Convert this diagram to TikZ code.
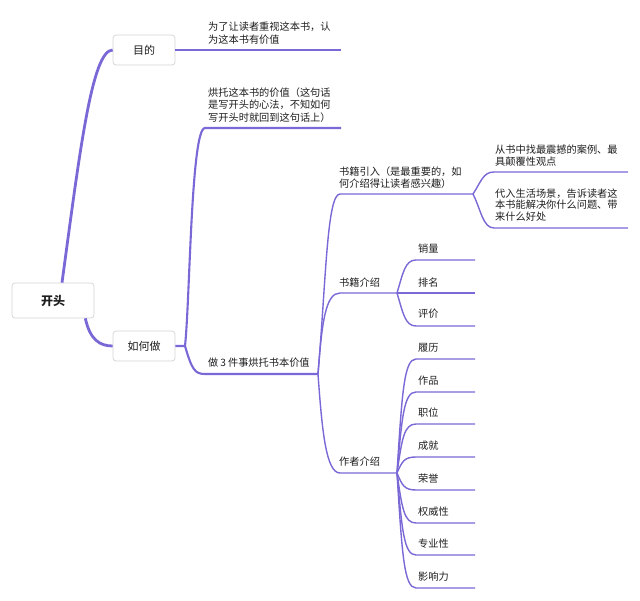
\documentclass[tikz,border=0pt]{standalone}
\usepackage{fontspec}
\newfontfamily\cjk{Noto Sans CJK SC}
\usetikzlibrary{calc}
\definecolor{br}{RGB}{122,104,214}
\definecolor{bx}{RGB}{212,212,212}
\definecolor{tx}{RGB}{30,30,30}
\begin{document}
\begin{tikzpicture}[x=1pt,y=-1pt,
  box/.style={draw=bx,line width=0.7pt,rounded corners=3pt,fill=white,minimum width=62pt,minimum height=30pt,inner sep=0pt,font=\cjk\fontsize{11}{13}\selectfont,text=tx},
  rootbox/.style={box,minimum width=82pt,minimum height=35pt,font=\cjk\bfseries\fontsize{12}{14}\selectfont},
  lbl/.style={anchor=west,inner sep=0pt,align=left,text=tx,font=\cjk\fontsize{10.2}{12.8}\selectfont},
  lbl3/.style={lbl,font=\cjk\fontsize{10.2}{11.8}\selectfont},
  b1/.style={draw=br,line width=2.8pt},
  b2/.style={draw=br,line width=2.1pt},
  b3/.style={draw=br,line width=1.4pt},
]
\useasboundingbox (0,0) rectangle (640,601);
\node[rootbox] (root) at (53,300.5) {开头};
\node[box] (mudi) at (144,50) {目的};
\node[box] (ruhe) at (144,346) {如何做};
\draw[b1] ([xshift=9pt]root.north) .. controls (80,150) and (92,50) .. (mudi.west);
\draw[b1] ([xshift=-9pt]root.south east) .. controls (90,340) and (100,346) .. (ruhe.west);
% level 2
\node[lbl] (t1) at (208,33.5) {为了让读者重视这本书，认\\为这本书有价值};
\coordinate (t1e) at (341,50);
\draw[b2] (mudi.east) -- (t1e);
\node[lbl] (t2) at (208,105) {烘托这本书的价值（这句话\\是写开头的心法，不知如何\\写开头时就回到这句话上）};
\node[lbl] (t3) at (208,363) {做\hspace{2pt}3\hspace{2pt}件事烘托书本价值};
\coordinate (j1) at (185,346);
\coordinate (t2e) at (341,128);
\coordinate (j2) at (318,374);
\draw[b2] (ruhe.east) -- (j1) .. controls (190,300) and (191,128) .. (205,128) -- (t2e);
\draw[b2] (j1) .. controls (192,370) and (195,374) .. (205,374) -- (j2);
% level 3
\node[lbl3] (s1) at (339,177.5) {书籍引入（是最重要的，如\\何介绍得让读者感兴趣）};
\node[lbl3] (s2) at (339,283) {书籍介绍};
\node[lbl3] (s3) at (339,462) {作者介绍};
\coordinate (j3) at (473,194);
\coordinate (j4) at (397,293);
\coordinate (j5) at (397,473);
\draw[b3] (j2) .. controls (326,280) and (327,194) .. (340,194) -- (j3);
\draw[b3] (j2) .. controls (322,320) and (326,293) .. (340,293) -- (j4);
\draw[b3] (j2) .. controls (322,430) and (326,473) .. (340,473) -- (j5);
% level 4
\node[lbl3] (r1) at (495,156) {从书中找最震撼的案例、最\\具颠覆性观点};
\node[lbl3] (r2) at (495,205) {代入生活场景，告诉读者这\\本书能解决你什么问题、带\\来什么好处};
\coordinate (r1e) at (628,172);
\coordinate (r2e) at (628,228);
\draw[b3] (j3) .. controls (481,182) and (483,172) .. (494,172) -- (r1e);
\draw[b3] (j3) .. controls (481,210) and (483,228) .. (494,228) -- (r2e);
\foreach \u/\t/\s [count=\i] in {260/249/销量,293/283/排名,326/314/评价}{
  \node[lbl3] (k\i) at (418,\t) {\s};
  \coordinate (ke\i) at (475,\u);
  \draw[b3] (j4) .. controls (403,{293+(\u-293)*0.6}) and (405,\u) .. (416,\u) -- (ke\i);
}
\foreach \u/\s [count=\i] in {359/履历,392/作品,424/职位,457/成就,490/荣誉,523/权威性,555/专业性,588/影响力}{
  \node[lbl3] (m\i) at (418,{\u-11.5}) {\s};
  \coordinate (me\i) at (475,\u);
  \draw[b3] (j5) .. controls (402,{473+(\u-473)*0.7}) and (404,\u) .. (416,\u) -- (me\i);
}
\end{tikzpicture}
\end{document}
